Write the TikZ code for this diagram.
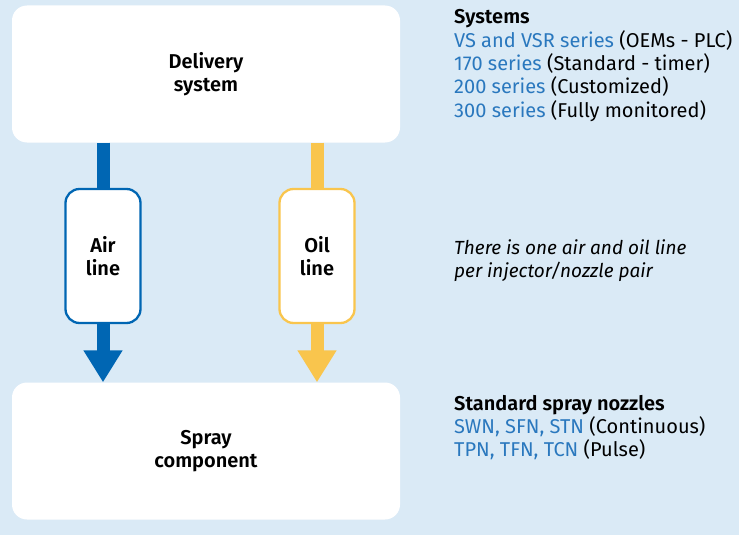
\documentclass[tikz,border=0pt]{standalone}
\usepackage{fontspec}
\setmainfont{Fira Sans}[BoldFont={Fira Sans SemiBold}]
\usepackage{tikz}
\usetikzlibrary{arrows.meta,positioning}

\definecolor{paleblue}{HTML}{DAEAF6}
\definecolor{airblue}{HTML}{0066B3}
\definecolor{oilyellow}{HTML}{F9C54D}
\definecolor{seriesblue}{HTML}{2A78BE}
\newcommand{\ser}[1]{\textcolor{seriesblue}{#1}}

\begin{document}
\begin{tikzpicture}[x=1pt, y=1pt,
            mainbox/.style={fill=white, rounded corners=15pt, minimum width=388pt,
                            minimum height=137pt, align=center, font=\bfseries\fontsize{20}{23}\selectfont},
            linebox/.style={fill=white, line width=2.3pt, rounded corners=14pt, minimum width=75pt,
                            minimum height=134pt, align=center, font=\bfseries\fontsize{20}{23}\selectfont},
            flow/.style={line width=13pt, -{Triangle[width=37pt, length=32pt]}},
            sidetext/.style={anchor=north west, inner sep=0pt, align=left,
                             font=\fontsize{20}{23.3}\selectfont}]
            \fill[paleblue] (0,0) rectangle (739,-535);
            \node[mainbox] (delivery) at (206,-74)  {Delivery\\system};
            \node[mainbox] (spray)    at (206,-451) {Spray\\component};
            % lines between the two boxes
            \draw[flow, airblue]   (delivery.south -| 103,0) -- (spray.north -| 103,0);
            \draw[flow, oilyellow] (delivery.south -| 317,0) -- (spray.north -| 317,0);
            \node[linebox, draw=airblue]   (airline) at (103,-256) {Air\\line};
            \node[linebox, draw=oilyellow] (oilline) at (317,-256) {Oil\\line};
            % notes on the right
            \node[sidetext] (systems) at (454,-9.5)
                {\textbf{Systems}\\
                 \ser{VS and VSR series} (OEMs - PLC)\\
                 \ser{170 series} (Standard - timer)\\
                 \ser{200 series} (Customized)\\
                 \ser{300 series} (Fully monitored)};
            \node[sidetext, font=\fontsize{19}{23.3}\selectfont] (pairnote) at (454,-239)
                {\itshape There is one air and oil line\\
                 \itshape per injector/nozzle pair};
            \node[sidetext] (nozzles) at (454,-395)
                {\textbf{Standard spray nozzles}\\
                 \ser{SWN, SFN, STN} (Continuous)\\
                 \ser{TPN, TFN, TCN} (Pulse)};
        \end{tikzpicture}
\end{document}
